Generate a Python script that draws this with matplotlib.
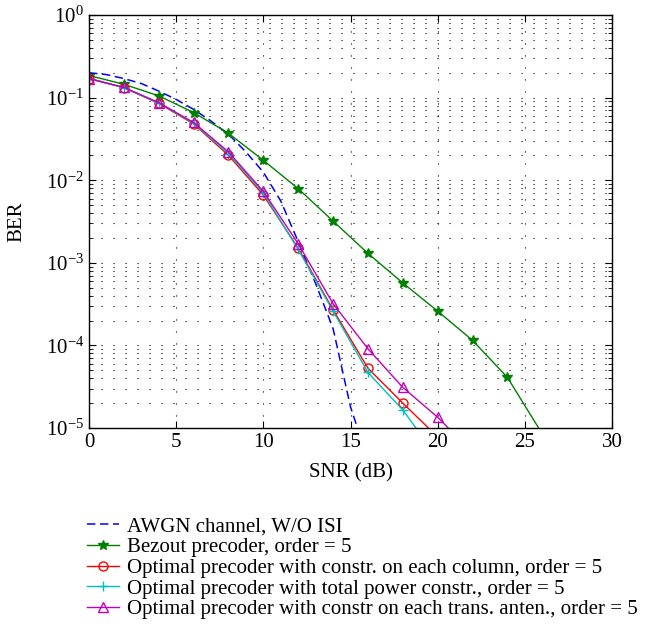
import numpy as np
import matplotlib
matplotlib.use("Agg")
import matplotlib.pyplot as plt
from matplotlib.ticker import LogLocator, NullFormatter

plt.rcParams['font.family'] = 'serif'
plt.rcParams['font.serif'] = ['Liberation Serif', 'DejaVu Serif']
plt.rcParams['mathtext.fontset'] = 'stix'

# AWGN reference curve (dashed)
snr_awgn = [0, 1, 2, 3, 4, 5, 6, 7, 8, 9, 10, 11, 12, 13, 14, 15, 15.4, 15.7]
ber_awgn = [0.20, 0.19, 0.17, 0.148, 0.12, 0.095, 0.072, 0.052, 0.036,
            0.022, 0.0125, 5.6e-3, 1.8e-3, 5.6e-4, 1.6e-4, 1.8e-5, 1.0e-5, 5e-6]

snr = [0, 2, 4, 6, 8, 10, 12, 14, 16, 18, 20, 22, 24, 26]
ber_bezout = [0.185, 0.145, 0.105, 0.066, 0.037, 0.0174, 7.9e-3, 3.2e-3,
              1.3e-3, 5.7e-4, 2.6e-4, 1.15e-4, 4.1e-5, 8.5e-6]

snr_opt = [0, 2, 4, 6, 8, 10, 12, 14, 16, 18, 20]
ber_column = [0.17, 0.132, 0.085, 0.048, 0.020, 6.6e-3, 1.5e-3, 2.7e-4,
              5.3e-5, 2.0e-5, 7.8e-6]
ber_total = [0.17, 0.132, 0.086, 0.049, 0.021, 7.0e-3, 1.45e-3, 2.6e-4,
             4.7e-5, 1.65e-5, 4.4e-6]
snr_ant = [0, 2, 4, 6, 8, 10, 12, 14, 16, 18, 20, 22]
ber_antenna = [0.17, 0.133, 0.087, 0.050, 0.022, 7.3e-3, 1.7e-3, 3.2e-4,
               9.1e-5, 3.1e-5, 1.35e-5, 5.0e-6]

labels = ['AWGN channel, W/O ISI',
          'Bezout precoder, order = 5',
          'Optimal precoder with constr. on each column, order = 5',
          'Optimal precoder with total power constr., order = 5',
          'Optimal precoder with constr on each trans. anten., order = 5']

fig = plt.figure(figsize=(6.47, 6.44), dpi=100)
ax = fig.add_axes([0.1376, 0.3354, 0.8083, 0.6413])

ax.semilogy(snr_awgn, ber_awgn, color='#0000ff', lw=1.1, dashes=(5.5, 3),
            label=labels[0])
ax.semilogy(snr, ber_bezout, '-', color='#008000', lw=1.0, marker='*',
            ms=7, mfc='#008000', mec='#008000', label=labels[1])
ax.semilogy(snr_opt, ber_column, '-', color='#ff0000', lw=1.0, marker='o',
            ms=6.5, mfc='none', mec='#ff0000', label=labels[2])
ax.semilogy(snr_opt, ber_total, '-', color='#00bfbf', lw=1.0, marker='+',
            ms=6.5, mec='#00bfbf', label=labels[3])
ax.semilogy(snr_ant, ber_antenna, '-', color='#bf00bf', lw=1.0, marker='^',
            ms=7.5, mfc='none', mec='#bf00bf', label=labels[4])

ax.set_xlim(0, 30)
ax.set_ylim(1e-5, 1)
ax.set_xticks([0, 5, 10, 15, 20, 25, 30])
ax.yaxis.set_major_locator(LogLocator(base=10, numticks=10))
ax.yaxis.set_minor_locator(LogLocator(base=10, subs=np.arange(2, 10), numticks=20))
ax.yaxis.set_minor_formatter(NullFormatter())

dot = (0, (1, 9.8))
ax.grid(True, which='major', axis='x', color='black', ls=dot, lw=0.8)
ax.grid(True, which='both', axis='y', color='black', ls=dot, lw=0.8)

ax.tick_params(which='both', direction='in', top=True, right=True, labelsize=15)
ax.tick_params(which='major', length=5)
ax.tick_params(which='minor', length=3)
for s in ax.spines.values():
    s.set_linewidth(1.0)

ax.set_xlabel('SNR (dB)', fontsize=15, labelpad=8)
ax.set_ylabel('BER', fontsize=15, labelpad=14)

fig.legend(loc='upper left', bbox_to_anchor=(0.122, 0.21), frameon=False,
           fontsize=15, handlelength=1.5, handletextpad=0.4,
           labelspacing=0.05, borderaxespad=0)

fig.savefig('out.png', dpi=100)
